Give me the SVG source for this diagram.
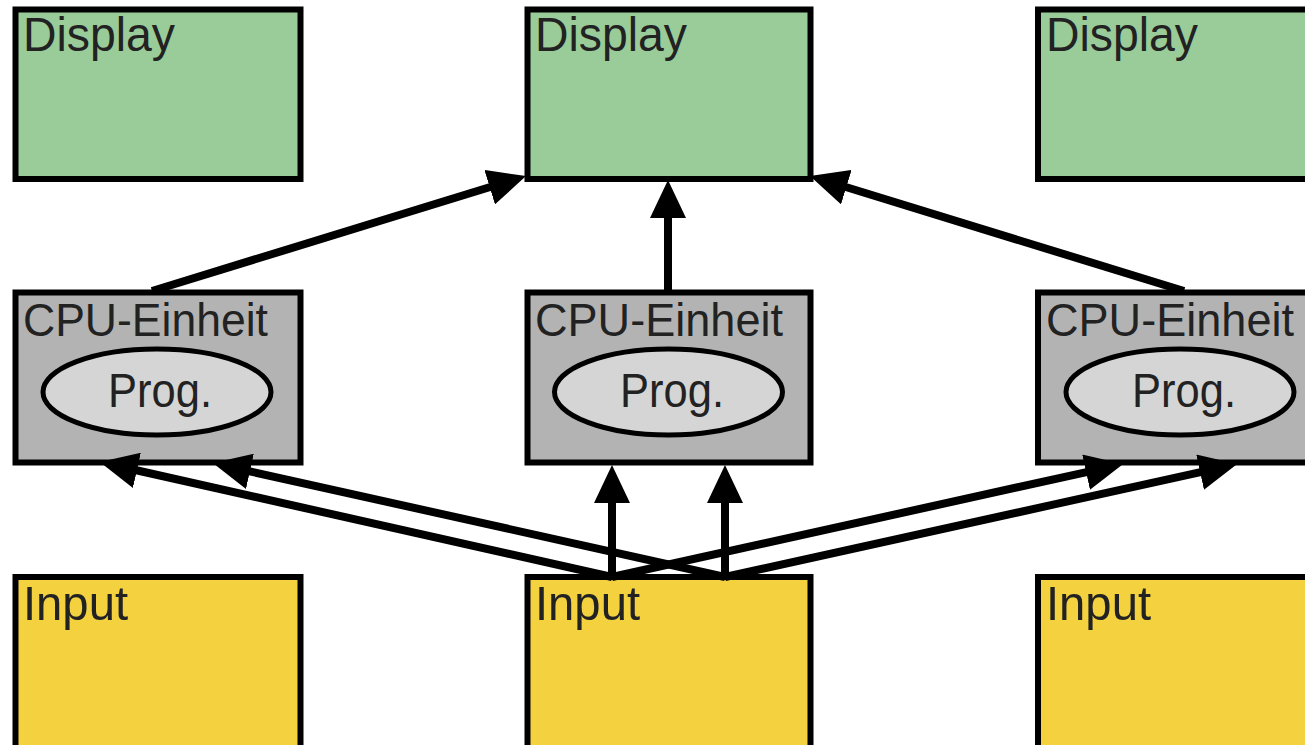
<svg xmlns="http://www.w3.org/2000/svg" width="1305" height="745" viewBox="0 0 1305 745">
<style>
.box{stroke:#000;stroke-width:6}
.disp{fill:#99CC99}
.cpu{fill:#B3B3B3}
.inp{fill:#F4D23F}
.prog{fill:#D5D5D5;stroke:#000;stroke-width:5}
.lbl{font-family:"Liberation Sans",Arial,sans-serif;font-size:49px;fill:#222}
.sm{font-size:46px}
.conn{stroke:#000;stroke-width:8;fill:none;marker-end:url(#ah)}
</style>
<defs>
<marker id="ah" viewBox="0 0 38 36" refX="4" refY="18" markerWidth="38" markerHeight="36" markerUnits="userSpaceOnUse" orient="auto">
<path d="M0,0 L38,18 L0,36 z" fill="#000"/>
</marker>
</defs>
<g id="display1"><rect class="box disp" x="15.5" y="9.5" width="285" height="169.5"/><text class="lbl" x="23" y="51" textLength="152" lengthAdjust="spacingAndGlyphs">Display</text></g>
<g id="display2"><rect class="box disp" x="527.5" y="9.5" width="283" height="169.5"/><text class="lbl" x="535" y="51" textLength="152" lengthAdjust="spacingAndGlyphs">Display</text></g>
<g id="display3"><rect class="box disp" x="1038" y="9.5" width="290" height="169.5"/><text class="lbl" x="1046" y="51" textLength="152" lengthAdjust="spacingAndGlyphs">Display</text></g>
<g id="cpu1"><rect class="box cpu" x="15.5" y="292.5" width="285" height="170"/><text class="lbl sm" x="23" y="336" textLength="245" lengthAdjust="spacingAndGlyphs">CPU-Einheit</text><ellipse class="prog" cx="157" cy="392" rx="114" ry="43"/><text class="lbl" x="160" y="407" text-anchor="middle" textLength="104" lengthAdjust="spacingAndGlyphs">Prog.</text></g>
<g id="cpu2"><rect class="box cpu" x="527.5" y="292.5" width="283" height="170"/><text class="lbl sm" x="535" y="336" textLength="248" lengthAdjust="spacingAndGlyphs">CPU-Einheit</text><ellipse class="prog" cx="668.5" cy="392" rx="114" ry="43"/><text class="lbl" x="672" y="407" text-anchor="middle" textLength="104" lengthAdjust="spacingAndGlyphs">Prog.</text></g>
<g id="cpu3"><rect class="box cpu" x="1038" y="292.5" width="290" height="170"/><text class="lbl sm" x="1046" y="336" textLength="248" lengthAdjust="spacingAndGlyphs">CPU-Einheit</text><ellipse class="prog" cx="1180" cy="392" rx="114" ry="43"/><text class="lbl" x="1184" y="407" text-anchor="middle" textLength="104" lengthAdjust="spacingAndGlyphs">Prog.</text></g>
<g id="input1"><rect class="box inp" x="15.5" y="577" width="285" height="200"/><text class="lbl" x="23" y="620" textLength="105" lengthAdjust="spacingAndGlyphs">Input</text></g>
<g id="input2"><rect class="box inp" x="527.5" y="577" width="283" height="200"/><text class="lbl" x="535" y="620" textLength="105" lengthAdjust="spacingAndGlyphs">Input</text></g>
<g id="input3"><rect class="box inp" x="1038" y="577" width="290" height="200"/><text class="lbl" x="1046" y="620" textLength="105" lengthAdjust="spacingAndGlyphs">Input</text></g>
<g id="connectors">
<line class="conn" x1="152" y1="291" x2="493.5" y2="186"/>
<line class="conn" x1="668" y1="292" x2="668" y2="214"/>
<line class="conn" x1="1184" y1="291" x2="842.5" y2="186"/>
<line class="conn" x1="612" y1="577" x2="133" y2="469.5"/>
<line class="conn" x1="725" y1="577" x2="246" y2="470.5"/>
<line class="conn" x1="612" y1="577" x2="1090" y2="471.3"/>
<line class="conn" x1="725" y1="577" x2="1204" y2="471.3"/>
<line class="conn" x1="612" y1="577" x2="612" y2="499"/>
<line class="conn" x1="725" y1="577" x2="725" y2="499"/>
</g>
</svg>
